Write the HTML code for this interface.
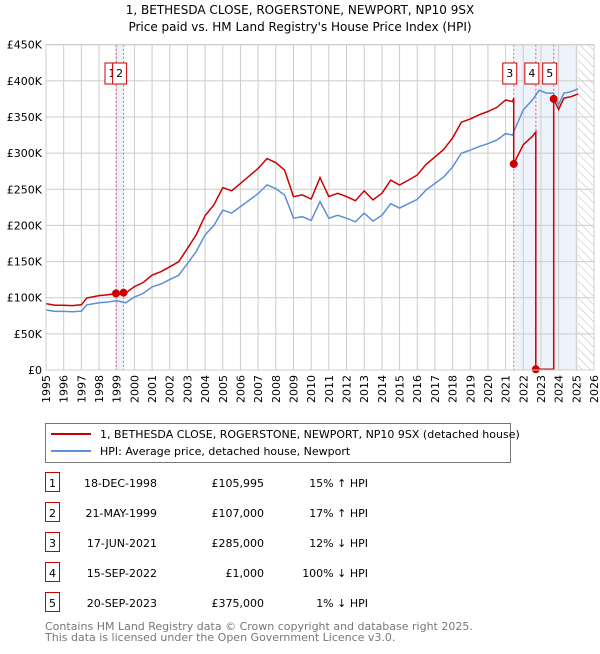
<!DOCTYPE html>
<html><head><meta charset="utf-8"><style>
body{margin:0;background:#fff;font-family:"DejaVu Sans","Liberation Sans",sans-serif;}
svg text{font-family:"DejaVu Sans","Liberation Sans",sans-serif;}
</style></head><body>
<svg id="c" width="600" height="650" viewBox="0 0 600 650">
<defs><pattern id="hatch" width="6" height="6" patternUnits="userSpaceOnUse" patternTransform="rotate(-45)"><line x1="0" y1="0" x2="0" y2="6" stroke="#bbb" stroke-width="1"/></pattern></defs>
<text x="300" y="14" text-anchor="middle" font-size="12">1, BETHESDA CLOSE, ROGERSTONE, NEWPORT, NP10 9SX</text>
<text x="300" y="31" text-anchor="middle" font-size="12">Price paid vs. HM Land Registry's House Price Index (HPI)</text>
<g id="plot"></g>
<g>
<rect x="45.5" y="423.5" width="465" height="39" fill="#fff" stroke="#777"/>
<line x1="51" y1="434" x2="91" y2="434" stroke="#cc0000" stroke-width="2"/>
<text x="100" y="438" font-size="11">1, BETHESDA CLOSE, ROGERSTONE, NEWPORT, NP10 9SX (detached house)</text>
<line x1="51" y1="451" x2="91" y2="451" stroke="#5b8fd6" stroke-width="2"/>
<text x="100" y="455" font-size="11">HPI: Average price, detached house, Newport</text>
</g>
<g id="tbl"></g>
<text x="45" y="630" font-size="11" fill="#777">Contains HM Land Registry data © Crown copyright and database right 2025.</text>
<text x="45" y="641" font-size="11" fill="#777">This data is licensed under the Open Government Licence v3.0.</text>
</svg>
<script>
const hpiT=[1995,1995.5,1996,1996.5,1997,1997.3,1998,1998.5,1999,1999.5,2000,2000.5,2001,2001.5,2002,2002.5,2003,2003.5,2004,2004.5,2005,2005.5,2006,2006.5,2007,2007.5,2008,2008.5,2009,2009.5,2010,2010.5,2011,2011.5,2012,2012.5,2013,2013.5,2014,2014.5,2015,2015.5,2016,2016.5,2017,2017.5,2018,2018.5,2019,2019.5,2020,2020.5,2021,2021.4,2021.5,2022,2022.5,2022.9,2023.3,2023.7,2024,2024.3,2024.7,2025.1];
const hpiV=[83000,81000,81000,80500,81500,90000,93000,94000,96000,93000,101000,106000,115000,119000,125000,131000,147000,164000,187000,200000,221000,217000,226000,235000,244000,256000,251000,242000,210000,212000,207000,233000,210000,214000,210000,205000,217000,206000,214000,230000,224000,230000,236000,249000,258000,267000,281000,300000,304000,309000,313000,318000,327000,325000,332000,360000,373000,387000,383000,383000,367000,383000,385000,389000];
const saleT=[1998.96,1999.39,2021.46,2022.71,2023.72];
const saleV=[105995,107000,285000,1000,375000];
const saleLabels=["1","2","3","4","5"];
const saleDates=["18-DEC-1998","21-MAY-1999","17-JUN-2021","15-SEP-2022","20-SEP-2023"];
const salePrices=["£105,995","£107,000","£285,000","£1,000","£375,000"];
const salePct=["15% ↑ HPI","17% ↑ HPI","12% ↓ HPI","100% ↓ HPI","1% ↓ HPI"];
const yTicks=[0,50000,100000,150000,200000,250000,300000,350000,400000,450000];
const yTickLabels=["£0","£50K","£100K","£150K","£200K","£250K","£300K","£350K","£400K","£450K"];
const xYears=[1995,1996,1997,1998,1999,2000,2001,2002,2003,2004,2005,2006,2007,2008,2009,2010,2011,2012,2013,2014,2015,2016,2017,2018,2019,2020,2021,2022,2023,2024,2025,2026];

const NS="http://www.w3.org/2000/svg";
const L=46,R=594,T=44.7,B=370;
const X=t=>L+(t-1995)/(2026-1995)*(R-L);
const Y=v=>B-v/450000*(B-T);
const plot=document.getElementById('plot');
function mk(tag,at,parent){const e=document.createElementNS(NS,tag);for(const k in at)e.setAttribute(k,at[k]);(parent||plot).appendChild(e);return e;}
function hpiAt(t){if(t<=hpiT[0])return hpiV[0];for(let i=1;i<hpiT.length;i++){if(t<=hpiT[i]){const f=(t-hpiT[i-1])/(hpiT[i]-hpiT[i-1]);return hpiV[i-1]+f*(hpiV[i]-hpiV[i-1]);}}return hpiV[hpiV.length-1];}
const endT=hpiT[hpiT.length-1];
let e=mk('rect',{x:X(saleT[0]),y:T,width:X(saleT[1])-X(saleT[0]),height:B-T,fill:'#eef3fb'});

e=mk('rect',{x:X(saleT[2]),y:T,width:X(endT)-X(saleT[2]),height:B-T,fill:'#eef3fb'});

e=mk('rect',{x:X(endT),y:T,width:R-X(endT),height:B-T,fill:'url(#hatch)'});

xYears.forEach(y=>{const g=mk('line',{x1:X(y),x2:X(y),y1:T,y2:B,stroke:'#ccc','stroke-width':1});

const t=mk('text',{x:0,y:0,'text-anchor':'end','font-size':11,transform:'translate('+(X(y)+4)+','+(B+5)+') rotate(-90)'});t.textContent=y;
});
yTicks.forEach((v,i)=>{const g=mk('line',{x1:L,x2:R,y1:Y(v),y2:Y(v),stroke:'#ccc','stroke-width':1});

const t=mk('text',{x:L-4,y:Y(v)+4,'text-anchor':'end','font-size':11});t.textContent=yTickLabels[i];
});
saleT.forEach((s,i)=>{const l=mk('line',{x1:X(s),x2:X(s),y1:T,y2:B,stroke:'#f06060','stroke-width':1,'stroke-dasharray':'2,2'});
});
let d=hpiT.map((t,i)=>(i?'L':'M')+X(t).toFixed(1)+','+Y(hpiV[i]).toFixed(1)).join('');
e=mk('path',{d:d,fill:'none',stroke:'#5b8fd6','stroke-width':1.5});

let pts=[];
function factor(k){return saleV[k]/hpiAt(saleT[k]);}
const times=hpiT.concat(saleT).sort((a,b)=>a-b);
times.forEach(t=>{let k=-1;for(let j=0;j<saleT.length;j++)if(saleT[j]<=t)k=j;
let f=k<0?factor(0):factor(k);if(saleT.indexOf(t)>=0){const j=saleT.indexOf(t);if(j>0)pts.push([t,hpiAt(t)*factor(j-1)]);pts.push([t,saleV[j]]);}else pts.push([t,hpiAt(t)*f]);});
d=pts.map((p,i)=>(i?'L':'M')+X(p[0]).toFixed(1)+','+Y(p[1]).toFixed(1)).join('');
e=mk('path',{d:d,fill:'none',stroke:'#cc0000','stroke-width':1.5});

saleT.forEach((s,i)=>{const c=mk('circle',{cx:X(s),cy:Y(saleV[i]),r:4,fill:'#cc0000'});

const bx=X(s)-4-7;
const r=mk('rect',{x:bx,y:63,width:14,height:21,fill:'#fff',stroke:'#cc0000'});

const t=mk('text',{x:bx+7,y:77,'text-anchor':'middle','font-size':11});t.textContent=saleLabels[i];
});
const ax=mk('rect',{x:L,y:T,width:R-L,height:B-T,fill:'none',stroke:'#ccc'});

const tbl=document.getElementById('tbl');
saleT.forEach((s,i)=>{const cy=483+i*30;
let r=mk('rect',{x:45.5,y:cy-10.5,width:14,height:19,fill:'#fff',stroke:'#cc0000'},tbl);

let t=mk('text',{x:52.5,y:cy+4,'text-anchor':'middle','font-size':11},tbl);t.textContent=saleLabels[i];

t=mk('text',{x:157,y:cy+4,'text-anchor':'end','font-size':11},tbl);t.textContent=saleDates[i];

t=mk('text',{x:264,y:cy+4,'text-anchor':'end','font-size':11},tbl);t.textContent=salePrices[i];

t=mk('text',{x:368,y:cy+4,'text-anchor':'end','font-size':11},tbl);t.textContent=salePct[i];
});
</script>
</body></html>
